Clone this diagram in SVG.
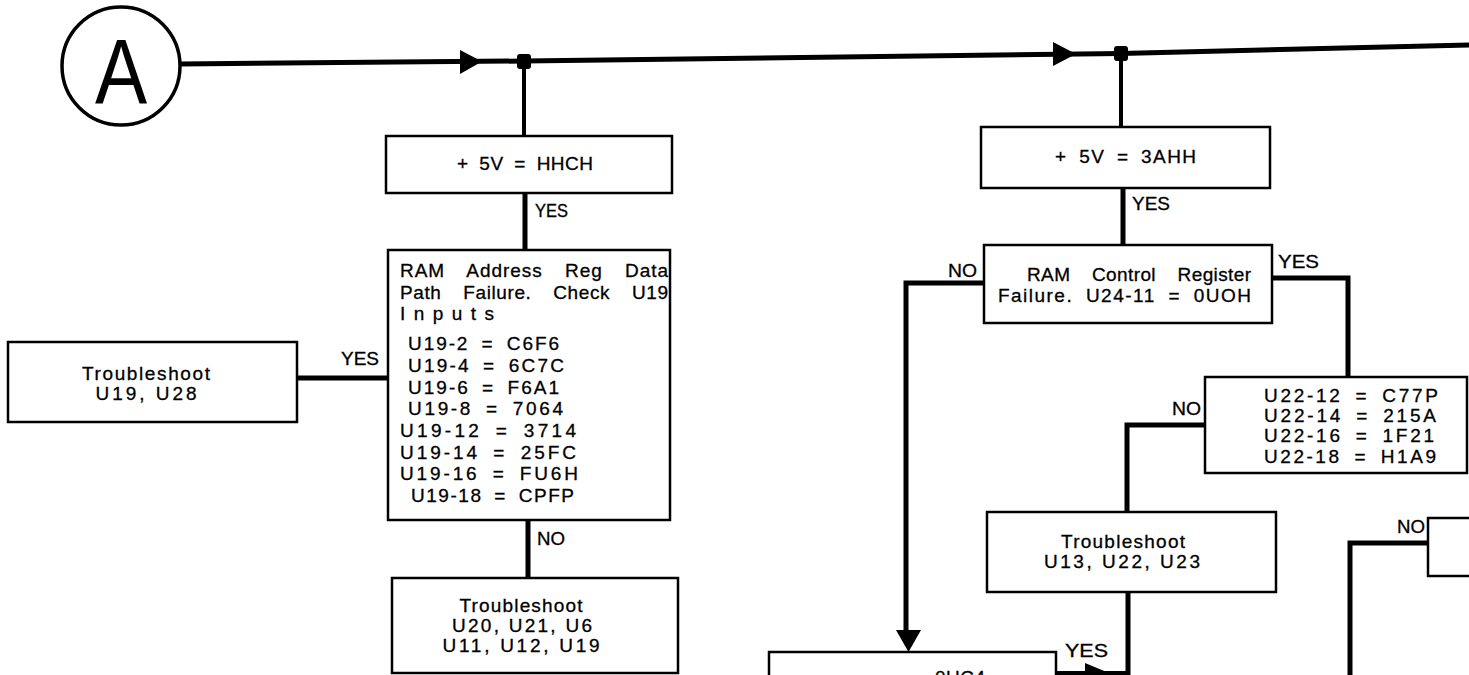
<svg xmlns="http://www.w3.org/2000/svg" width="1469" height="675" viewBox="0 0 1469 675">
<style>
.box{fill:#fff;stroke:#000;stroke-width:2.5}
.t{font-family:"Liberation Sans",Arial,sans-serif;font-size:19px;fill:#000;stroke:#000;stroke-width:0.3}
.c{text-anchor:middle}
.v{word-spacing:5px}
.j{word-spacing:16px}
.lbl{font-family:"Liberation Sans",Arial,sans-serif;font-size:18px;fill:#000;stroke:#000;stroke-width:0.3}
.conn{stroke:#000;stroke-width:5;fill:none;stroke-linejoin:miter}
.thin{stroke:#000;stroke-width:4;fill:none}
</style>
<rect width="1469" height="675" fill="#fff"/>
<g id="connectors">
  <polyline class="conn" points="180,64 524,61 1121,53.5 1469,45"/>
  <path d="M460,50 L482,61.5 L460,74 Z" fill="#000"/>
  <path d="M1053,42 L1076,54 L1053,66 Z" fill="#000"/>
  <rect x="517" y="54" width="14" height="15" rx="3" fill="#000"/>
  <rect x="1114" y="46" width="14" height="15" rx="3" fill="#000"/>
  <line class="thin" x1="524" y1="61" x2="524" y2="136"/>
  <line class="conn" x1="525" y1="193" x2="525" y2="250"/>
  <line class="conn" x1="528" y1="520" x2="528" y2="578"/>
  <line class="conn" x1="297" y1="378" x2="388" y2="378"/>
  <line class="thin" x1="1121" y1="53" x2="1121" y2="127"/>
  <line class="conn" x1="1123" y1="188" x2="1123" y2="245"/>
  <polyline class="conn" points="984,283 906,283 906,634"/>
  <path d="M896,630 L921,630 L908.5,652 Z" fill="#000"/>
  <polyline class="conn" points="1272,278 1348,278 1348,377"/>
  <polyline class="conn" points="1205,425 1127,425 1127,512"/>
  <line class="conn" x1="1128" y1="592" x2="1128" y2="680"/>
  <line class="thin" x1="1056" y1="673" x2="1128" y2="673"/>
  <path d="M1085,663 L1109,673 L1085,683 Z" fill="#000"/>
  <polyline class="conn" points="1428,543 1350,543 1350,680"/>
</g>
<g id="nodeA">
  <ellipse cx="121" cy="66" rx="59" ry="59" fill="#fff" stroke="#000" stroke-width="3.5"/>
  <text x="121" y="104" text-anchor="middle" font-family="Liberation Sans, Arial, sans-serif" font-size="92" transform="translate(121,0) scale(0.85,1) translate(-121,0)">A</text>
</g>
<g id="box1">
  <rect class="box" x="386" y="136" width="286" height="57"/>
  <text class="t v" x="457" y="170" textLength="136">+ 5V = HHCH</text>
  <text class="lbl" x="535" y="217" textLength="33" lengthAdjust="spacingAndGlyphs">YES</text>
</g>
<g id="box2">
  <rect class="box" x="388" y="250" width="282" height="270"/>
  <text class="t j" x="400" y="277" textLength="268">RAM Address Reg Data</text>
  <text class="t j" x="400" y="299" textLength="268">Path Failure. Check U19</text>
  <text class="t" x="400" y="320" textLength="94">Inputs</text>
  <text class="t v" x="408" y="350" textLength="151">U19-2 = C6F6</text>
  <text class="t v" x="408" y="372" textLength="156">U19-4 = 6C7C</text>
  <text class="t v" x="408" y="394" textLength="151">U19-6 = F6A1</text>
  <text class="t v" x="408" y="415" textLength="155">U19-8 = 7064</text>
  <text class="t v" x="400" y="437" textLength="176">U19-12 = 3714</text>
  <text class="t v" x="400" y="459" textLength="176">U19-14 = 25FC</text>
  <text class="t v" x="400" y="480" textLength="178">U19-16 = FU6H</text>
  <text class="t v" x="411" y="502" textLength="163">U19-18 = CPFP</text>
  <text class="lbl" x="341" y="365" textLength="38" lengthAdjust="spacingAndGlyphs">YES</text>
  <text class="lbl" x="537" y="545" textLength="28" lengthAdjust="spacingAndGlyphs">NO</text>
</g>
<g id="boxU19">
  <rect class="box" x="8" y="342" width="289" height="80"/>
  <text class="t c" x="146" y="380" textLength="128">Troubleshoot</text>
  <text class="t c" x="146" y="400" textLength="101">U19, U28</text>
</g>
<g id="box3">
  <rect class="box" x="392" y="578" width="286" height="95"/>
  <text class="t c" x="521" y="612" textLength="123">Troubleshoot</text>
  <text class="t c" x="522" y="632" textLength="140">U20, U21, U6</text>
  <text class="t c" x="521" y="652" textLength="157">U11, U12, U19</text>
</g>
<g id="box4">
  <rect class="box" x="981" y="127" width="289" height="61"/>
  <text class="t v" x="1055" y="163" textLength="141">+ 5V = 3AHH</text>
  <text class="lbl" x="1132" y="210" textLength="38" lengthAdjust="spacingAndGlyphs">YES</text>
</g>
<g id="box5">
  <rect class="box" x="984" y="245" width="288" height="78"/>
  <text class="t j" x="1027" y="281" textLength="224">RAM Control Register</text>
  <text class="t" x="998" y="302" textLength="253" style="word-spacing:6px">Failure. U24-11 = 0UOH</text>
  <text class="lbl" x="948" y="277" textLength="29" lengthAdjust="spacingAndGlyphs">NO</text>
  <text class="lbl" x="1278" y="268" textLength="41" lengthAdjust="spacingAndGlyphs">YES</text>
</g>
<g id="box6">
  <rect class="box" x="1205" y="377" width="262" height="96"/>
  <text class="t v" x="1264" y="402" textLength="174">U22-12 = C77P</text>
  <text class="t v" x="1264" y="422" textLength="172">U22-14 = 215A</text>
  <text class="t v" x="1264" y="442" textLength="170">U22-16 = 1F21</text>
  <text class="t v" x="1264" y="463" textLength="172">U22-18 = H1A9</text>
  <text class="lbl" x="1172" y="415" textLength="29" lengthAdjust="spacingAndGlyphs">NO</text>
</g>
<g id="box7">
  <rect class="box" x="987" y="512" width="289" height="80"/>
  <text class="t c" x="1123" y="548" textLength="124">Troubleshoot</text>
  <text class="t c" x="1122" y="568" textLength="156">U13, U22, U23</text>
</g>
<g id="box8">
  <polyline points="769,680 769,652 1056,652 1056,680" fill="#fff" stroke="#000" stroke-width="2.5"/>
  <text class="t" x="935" y="684" textLength="50">0UC4</text>
  <text class="lbl" x="1065" y="657" textLength="43" lengthAdjust="spacingAndGlyphs">YES</text>
</g>
<g id="box9">
  <rect class="box" x="1428" y="518" width="45" height="58"/>
  <text class="lbl" x="1397" y="533" textLength="28" lengthAdjust="spacingAndGlyphs">NO</text>
</g>
</svg>
